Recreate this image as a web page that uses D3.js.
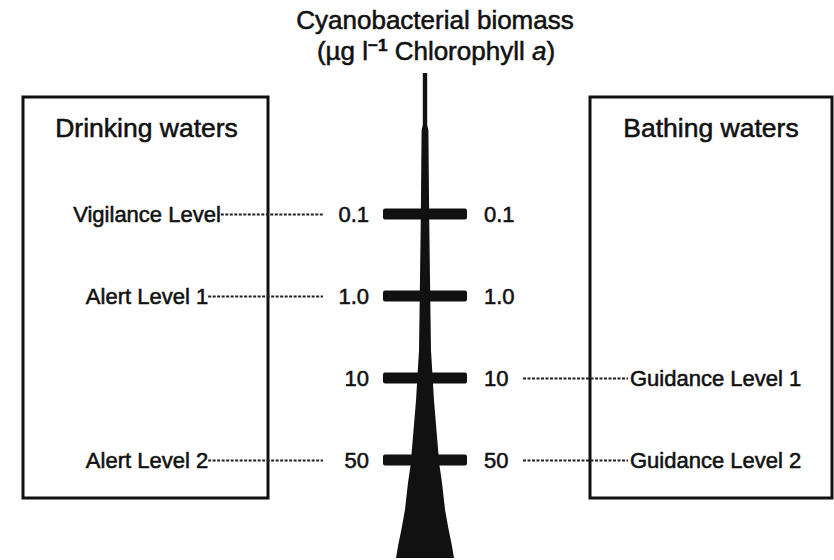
<!DOCTYPE html>
<html><head><meta charset="utf-8">
<script src="https://cdn.jsdelivr.net/npm/d3@7"></script>
<style>
body{margin:0;background:#fff}
svg{display:block}
text{font-family:"Liberation Sans",Arial,Helvetica,sans-serif;fill:#111;stroke:#111;stroke-width:0.55px}
</style>
</head><body>
<svg width="834" height="560"></svg>
<script>
// ---- data ----
const titleText = "Cyanobacterial biomass";
const unitPre = "(\u00b5g l";
const unitSup = "\u22121";
const unitMid = " Chlorophyll ";
const unitItalic = "a";
const unitPost = ")";
const panelTitles = ["Drinking waters", "Bathing waters"];
const levels = ["0.1", "1.0", "10", "50"];           // biomass levels (µg/l chl a)
const drinkingNames = ["Vigilance Level", "Alert Level 1", "Alert Level 2"];
const drinkingAt = ["0.1", "1.0", "50"];
const bathingNames = ["Guidance Level 1", "Guidance Level 2"];
const bathingAt = ["10", "50"];

// ---- layout ----
const svg = d3.select("svg");
const cx = 425;
const y = d3.scalePoint().domain(levels).range([214, 460]);
const ink = "#111";

// panels
const panels = [
  {x: 23, w: 245},
  {x: 590, w: 242}
];
svg.selectAll("rect.panel").data(panels).join("rect")
  .attr("class", "panel")
  .attr("x", d => d.x).attr("y", 97)
  .attr("width", d => d.w).attr("height", 401)
  .attr("fill", "none").attr("stroke", ink).attr("stroke-width", 3);

svg.selectAll("text.ptitle").data(panelTitles).join("text")
  .attr("class", "ptitle")
  .attr("x", (d, i) => panels[i].x + panels[i].w / 2 + (i ? -0 : 1))
  .attr("y", 137)
  .attr("text-anchor", "middle")
  .attr("font-size", 26.5)
  .text(d => d);

// spire (shape of the biomass axis)
const spireY = d3.scaleLinear().domain([0, 1]).range([73, 558]);
const spireProfile = [
  [0, 2.2], [0.107, 2.2], [0.118, 3.4], [0.3, 4.2], [0.47, 5.3], [0.572, 6],
  [0.675, 9], [0.757, 12.3], [0.81, 14.5], [0.845, 17], [0.9, 20], [0.94, 23.5],
  [0.97, 26.5], [1, 29]
];
const spireArea = d3.area()
  .y(d => spireY(d[0]))
  .x0(d => cx - d[1])
  .x1(d => cx + d[1]);
svg.append("path").attr("d", spireArea(spireProfile)).attr("fill", ink);

// level bars
svg.selectAll("rect.bar").data(levels).join("rect")
  .attr("class", "bar")
  .attr("x", cx - 42).attr("width", 84)
  .attr("y", d => y(d) - 5.5).attr("height", 11)
  .attr("rx", 2)
  .attr("fill", ink);

// level numbers
svg.selectAll("text.numL").data(levels).join("text")
  .attr("class", "numL")
  .attr("x", 369).attr("y", d => y(d)).attr("dy", "0.35em")
  .attr("text-anchor", "end").attr("font-size", 22)
  .text(d => d);
svg.selectAll("text.numR").data(levels).join("text")
  .attr("class", "numR")
  .attr("x", 484).attr("y", d => y(d)).attr("dy", "0.35em")
  .attr("text-anchor", "start").attr("font-size", 22)
  .text(d => d);

// drinking water labels + leader lines
const dl = svg.selectAll("g.dl").data(drinkingNames).join("g").attr("class", "dl");
dl.append("text")
  .attr("x", 147).attr("y", (d, i) => y(drinkingAt[i])).attr("dy", "0.35em")
  .attr("text-anchor", "middle").attr("font-size", 22)
  .text(d => d);
dl.each(function(d, i) {
  const t = d3.select(this).select("text").node();
  const bb = t.getBBox();
  d3.select(this).append("line")
    .attr("x1", bb.x + bb.width).attr("x2", 323)
    .attr("y1", y(drinkingAt[i]) + 0.5).attr("y2", y(drinkingAt[i]) + 0.5)
    .attr("stroke", "#222").attr("stroke-width", 2)
    .attr("stroke-dasharray", "3,1.5");
});

// bathing water labels + leader lines
const bl = svg.selectAll("g.bl").data(bathingNames).join("g").attr("class", "bl");
bl.append("line")
  .attr("x1", 523).attr("x2", 628)
  .attr("y1", (d, i) => y(bathingAt[i]) + 0.5).attr("y2", (d, i) => y(bathingAt[i]) + 0.5)
  .attr("stroke", "#222").attr("stroke-width", 2)
  .attr("stroke-dasharray", "3,1.5");
bl.append("text")
  .attr("x", 630).attr("y", (d, i) => y(bathingAt[i])).attr("dy", "0.35em")
  .attr("text-anchor", "start").attr("font-size", 22)
  .text(d => d);

// axis title
svg.append("text")
  .attr("x", 435).attr("y", 29)
  .attr("text-anchor", "middle").attr("font-size", 26)
  .text(titleText);
const t2 = svg.append("text")
  .attr("x", 436).attr("y", 60)
  .attr("text-anchor", "middle").attr("font-size", 26);
t2.append("tspan").text(unitPre);
t2.append("tspan").attr("dy", -9).attr("font-size", 17).attr("font-weight", "bold").text(unitSup);
t2.append("tspan").attr("dy", 9).text(unitMid);
t2.append("tspan").attr("font-style", "italic").text(unitItalic);
t2.append("tspan").text(unitPost);
</script>
</body></html>
